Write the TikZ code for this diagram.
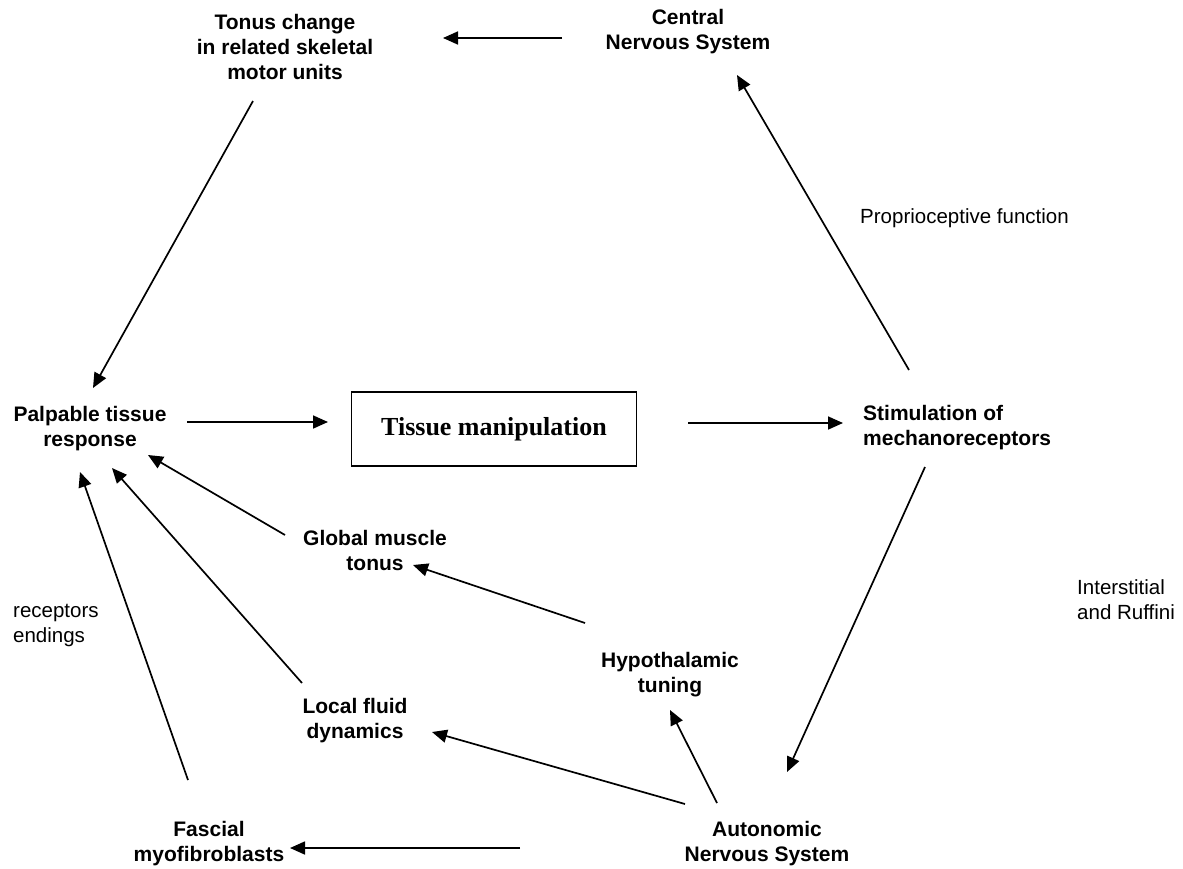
\documentclass[tikz,border=0pt]{standalone}
\usepackage{fontspec}
\setmainfont{Liberation Sans}
\newfontfamily\boxserif{Liberation Serif}
\usetikzlibrary{arrows.meta,calc}

\begin{document}
\begin{tikzpicture}[
		x=1pt,y=-1pt,
		conn/.style={-{Triangle[length=15pt,width=13pt]},line width=1.7pt},
		lab/.style={font=\bfseries\fontsize{21}{25}\selectfont,align=center,inner sep=0pt},
		note/.style={font=\fontsize{20.5}{25}\selectfont,align=left,anchor=west,inner sep=0pt},
		mainbox/.style={draw,line width=1.4pt,minimum width=285pt,minimum height=74pt,
			font=\boxserif\bfseries\fontsize{26}{30}\selectfont}
		]
		\useasboundingbox (0,0) rectangle (1183,868);
		% ===== Nodes of the loop =====
		\node[lab] (tonus) at (285,47) {Tonus change\\in related skeletal\\motor units};
		\node[lab] (cns) at (688,32) {Central\\Nervous System};
		\node[lab] (palp) at (90,429) {Palpable tissue\\response};
		\node[mainbox] (manip) at (494,429) {Tissue manipulation};
		\node[lab,align=left,anchor=west] (stim) at (863,428) {Stimulation of\\mechanoreceptors};
		\node[lab] (global) at (375,550) {Global muscle\\tonus};
		\node[lab] (hypo) at (670,675) {Hypothalamic\\tuning};
		\node[lab] (local) at (355,721) {Local fluid\\dynamics};
		\node[lab] (fascial) at (209,844) {Fascial\\myofibroblasts};
		\node[lab] (ans) at (767,844) {Autonomic\\Nervous System};
		% ===== Side notes =====
		\node[note] (propr) at (860,218) {Proprioceptive function};
		\node[note] (inter) at (1077,600) {Interstitial\\and Ruffini};
		\node[note] (recep) at (13,625) {receptors\\endings};
		% ===== Connectors =====
		\draw[conn] ($(cns)+(-126,6)$) -- ($(tonus)+(158,-9)$);
		\draw[conn] ($(tonus)+(-32,54)$) -- ($(palp)+(3,-41)$);
		\draw[conn] ($(palp)+(97,-7)$) -- ($(manip)+(-166,-7)$);
		\draw[conn] ($(manip)+(194,-6)$) -- ($(stim.west)+(-20,-5)$);
		\draw[conn] ($(stim.west)+(46,-58)$) -- ($(cns)+(49,43)$);
		\draw[conn] ($(stim.west)+(62,39)$) -- ($(ans)+(20,-72)$);
		\draw[conn] ($(ans)+(-247,4)$) -- ($(fascial)+(81,4)$);
		\draw[conn] ($(ans)+(-82,-40)$) -- ($(local)+(77,11)$);
		\draw[conn] ($(ans)+(-50,-41)$) -- ($(hypo)+(0,35)$);
		\draw[conn] ($(hypo)+(-85,-52)$) -- ($(global)+(38,15)$);
		\draw[conn] ($(global)+(-90,-15)$) -- ($(palp)+(58,26)$);
		\draw[conn] ($(local)+(-53,-38)$) -- ($(palp)+(22,39)$);
		\draw[conn] ($(fascial)+(-21,-64)$) -- ($(palp)+(-10,43)$);
	\end{tikzpicture}
\end{document}
